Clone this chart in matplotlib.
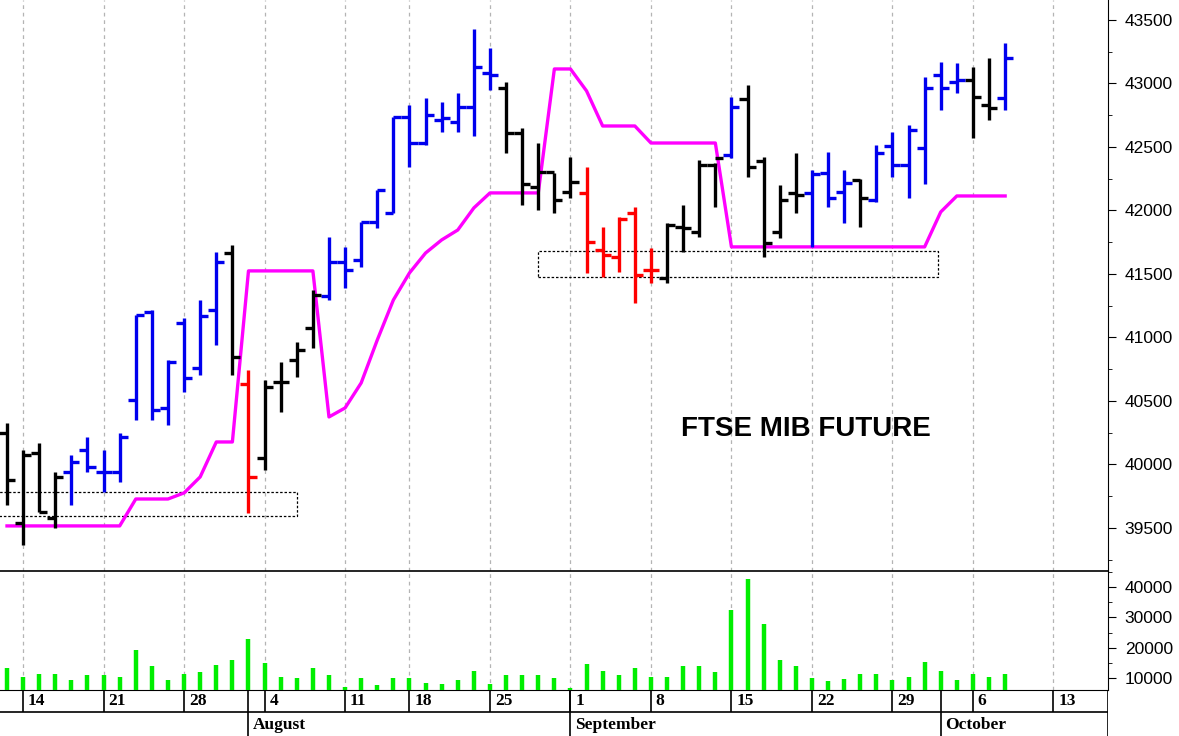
import matplotlib
matplotlib.use("Agg")
import matplotlib.pyplot as plt
from matplotlib.ticker import MultipleLocator, FixedLocator
import numpy as np

# ---------------- data ----------------
opens = [40248,39539,40091,39579,39941,40114,39941,39941,40508,41201,40445,41114,40760,41217,41665,
         40634,40051,40650,40823,41075,41327,41594,41610,41909,41980,42736,42531,42713,42697,42815,
         43083,42965,42610,42185,42303,42146,42138,41689,41634,41980,41531,41469,41870,41831,42358,
         42437,42878,42390,41831,42138,42138,42295,42146,42240,42083,42508,42358,42492,43067,43012,
         43028,42831,42886]
highs = [40327,40114,40169,39941,40075,40217,40114,40248,41177,41217,40823,41154,41295,41673,41728,
         40744,40665,40807,40965,41374,41791,41713,41909,42161,42736,42831,42886,42854,42925,43429,
         43280,43012,42650,42531,42295,42421,42343,41870,41949,42028,41705,41902,42043,42398,42374,
         42894,42988,42421,42201,42453,42319,42461,42319,42248,42516,42618,42673,43051,43169,43161,
         43130,43201,43319]
lows = [39681,39366,39626,39500,39681,39941,39783,39862,40350,40350,40311,40571,40705,40941,40705,
        39618,39957,40413,40689,40917,41295,41390,41555,41862,41980,42343,42516,42618,42618,42587,
        42949,42453,42043,42004,41980,42098,41508,41476,41516,41272,41429,41429,41673,41791,42028,
        42413,42264,41634,41783,41980,41713,42028,41902,41870,42067,42264,42098,42209,42791,42925,
        42571,42713,42791]
closes = [39878,40075,39626,39902,40020,39980,39941,40217,41177,40429,40807,40681,41169,41594,40846,
          39902,40610,40650,40902,41335,41594,41531,41909,42161,42736,42531,42752,42728,42815,43130,
          43067,42610,42209,42303,42083,42224,41752,41650,41933,41492,41531,41886,41862,42358,42413,
          42815,42343,41744,42083,42122,42287,42098,42217,42098,42453,42358,42634,42965,42965,43028,
          42894,42807,43201]
bar_colors = "KKKKBBBBBBBBBBKRKKKKBBBBBBBBBBBKKKKKRRRRRKKKKBKKKKBBBKBBBBBBKKB"
stop_line = [39516]*8 + [39728]*3 + [39776, 39902, 40177, 40177] + [41524]*5 + \
            [40374, 40445, 40642, 40980, 41295, 41508, 41665, 41768, 41846, 42020] + [42138]*4 + \
            [43114, 43114, 42941, 42665, 42665, 42665] + [42531]*5 + [41713]*13 + [41988] + [42114]*4
volume = [13200,10400,11300,11300,9300,10900,10800,10400,19100,13800,9300,11400,11800,14100,16000,
          22800,15000,10400,10000,13300,10900,7000,10000,7700,9900,10000,8400,8000,9400,12400,
          8000,10900,11000,11000,10000,6700,14700,12400,10900,13300,10400,10400,13800,13800,11800,
          32400,42800,27700,15800,13800,10000,9100,9600,11300,11300,9400,10400,15200,12400,9400,
          11300,10400,11300]
# trading-day index of Mondays and their labels
week_idx = [1, 6, 11, 16, 21, 25, 30, 35, 40, 45, 50, 55, 60, 65]
week_lbl = ["14", "21", "28", "4", "11", "18", "25", "1", "8", "15", "22", "29", "6", "13"]
month_idx = [15, 35, 58]
month_lbl = ["August", "September", "October"]
# support boxes: (x_start_idx, x_end_idx, low, high)
boxes = [(-0.5, 18.0, 39594, 39783), (33.0, 57.8, 41476, 41681)]
title_text = "FTSE MIB FUTURE"

# ---------------- figure ----------------
W, H = 1179, 736
fig = plt.figure(figsize=(W/100, H/100), dpi=100)
plt.rcParams['font.family'] = ['Liberation Sans', 'DejaVu Sans']
axw = 1108/W
ax = fig.add_axes([0, 1-571/H, axw, 571/H])
axv = fig.add_axes([0, 46/H, axw, 119/H], sharex=ax)
axd = fig.add_axes([0, 0, axw, 46/H], sharex=ax)
for a in (ax, axv, axd):
    a.patch.set_alpha(0)

n = len(opens)
x = np.arange(n)
cmap = {"K": "#000000", "B": "#0000ee", "R": "#ff0000"}
cols = [cmap[c] for c in bar_colors]
xlim = (-0.435, 68.39)

for a in (ax, axv):
    for w in week_idx:
        a.axvline(w, color="#b4b4b4", ls=(0, (3, 3)), lw=0.9, zorder=0)

ax.vlines(x, lows, highs, colors=cols, lw=2.4, zorder=3)
ax.hlines(opens, x-0.5, x, colors=cols, lw=2.4, zorder=3)
ax.hlines(closes, x, x+0.5, colors=cols, lw=2.4, zorder=3)
ax.plot(x, stop_line, color="#ff00ff", lw=2.4, zorder=2)
for x0, x1, lo, hi in boxes:
    ax.add_patch(plt.Rectangle((x0, lo), x1-x0, hi-lo, fill=False, ls=(0, (2, 1.5)),
                               lw=0.9, ec="black", zorder=1))
ax.text(49.6, 40280, title_text, fontsize=20, fontweight="bold", ha="center", va="center",
        family=["Liberation Sans", "DejaVu Sans"])
ax.set_xlim(*xlim)
ax.set_ylim(39161, 43657)
ax.yaxis.tick_right()
ax.yaxis.set_major_locator(MultipleLocator(500))
ax.yaxis.set_minor_locator(MultipleLocator(250))
ax.tick_params(axis="y", which="major", length=6, labelsize=12.5, pad=6)
ax.tick_params(axis="y", which="minor", length=3)
ax.tick_params(axis="x", bottom=False, labelbottom=False)
for s in ("top", "left"):
    ax.spines[s].set_visible(False)
ax.spines["bottom"].set_linewidth(1.2)
ax.spines["bottom"].set_zorder(10)

axv.vlines(x, 6000, volume, colors="#00ee00", lw=3.2, zorder=3)
axv.set_ylim(6000, 45333)
axv.yaxis.tick_right()
axv.yaxis.set_major_locator(FixedLocator([10000, 20000, 30000, 40000]))
axv.yaxis.set_minor_locator(FixedLocator([15000, 25000, 35000, 45000]))
axv.tick_params(axis="y", which="major", length=6, labelsize=12.5, pad=6)
axv.tick_params(axis="y", which="minor", length=3)
axv.tick_params(axis="x", bottom=False, labelbottom=False)
axv.yaxis.set_major_formatter(matplotlib.ticker.FuncFormatter(lambda v, p: f"{int(v)}"))
for s in ("top", "left"):
    axv.spines[s].set_visible(False)

# date rows
axd.set_ylim(0, 46)
axd.set_axis_off()
axd.axhline(46, color="black", lw=1.2)
axd.axhline(24, color="black", lw=1.2)
axd.axvline(xlim[1], color="black", lw=1.2)
for w, l in zip(week_idx, week_lbl):
    axd.vlines(w, 24, 46, color="black", lw=1.2)
    axd.text(w+0.3, 35, l, fontsize=12.5, fontweight="bold", va="center", ha="left",
             family=["Liberation Serif", "DejaVu Serif"])
for m, l in zip(month_idx, month_lbl):
    axd.vlines(m, 0, 46, color="black", lw=1.2)
    axd.text(m+0.3, 11, l, fontsize=12.5, fontweight="bold", va="center", ha="left",
             family=["Liberation Serif", "DejaVu Serif"])
axd.set_xlim(*xlim)

fig.savefig("out.png", dpi=100)
